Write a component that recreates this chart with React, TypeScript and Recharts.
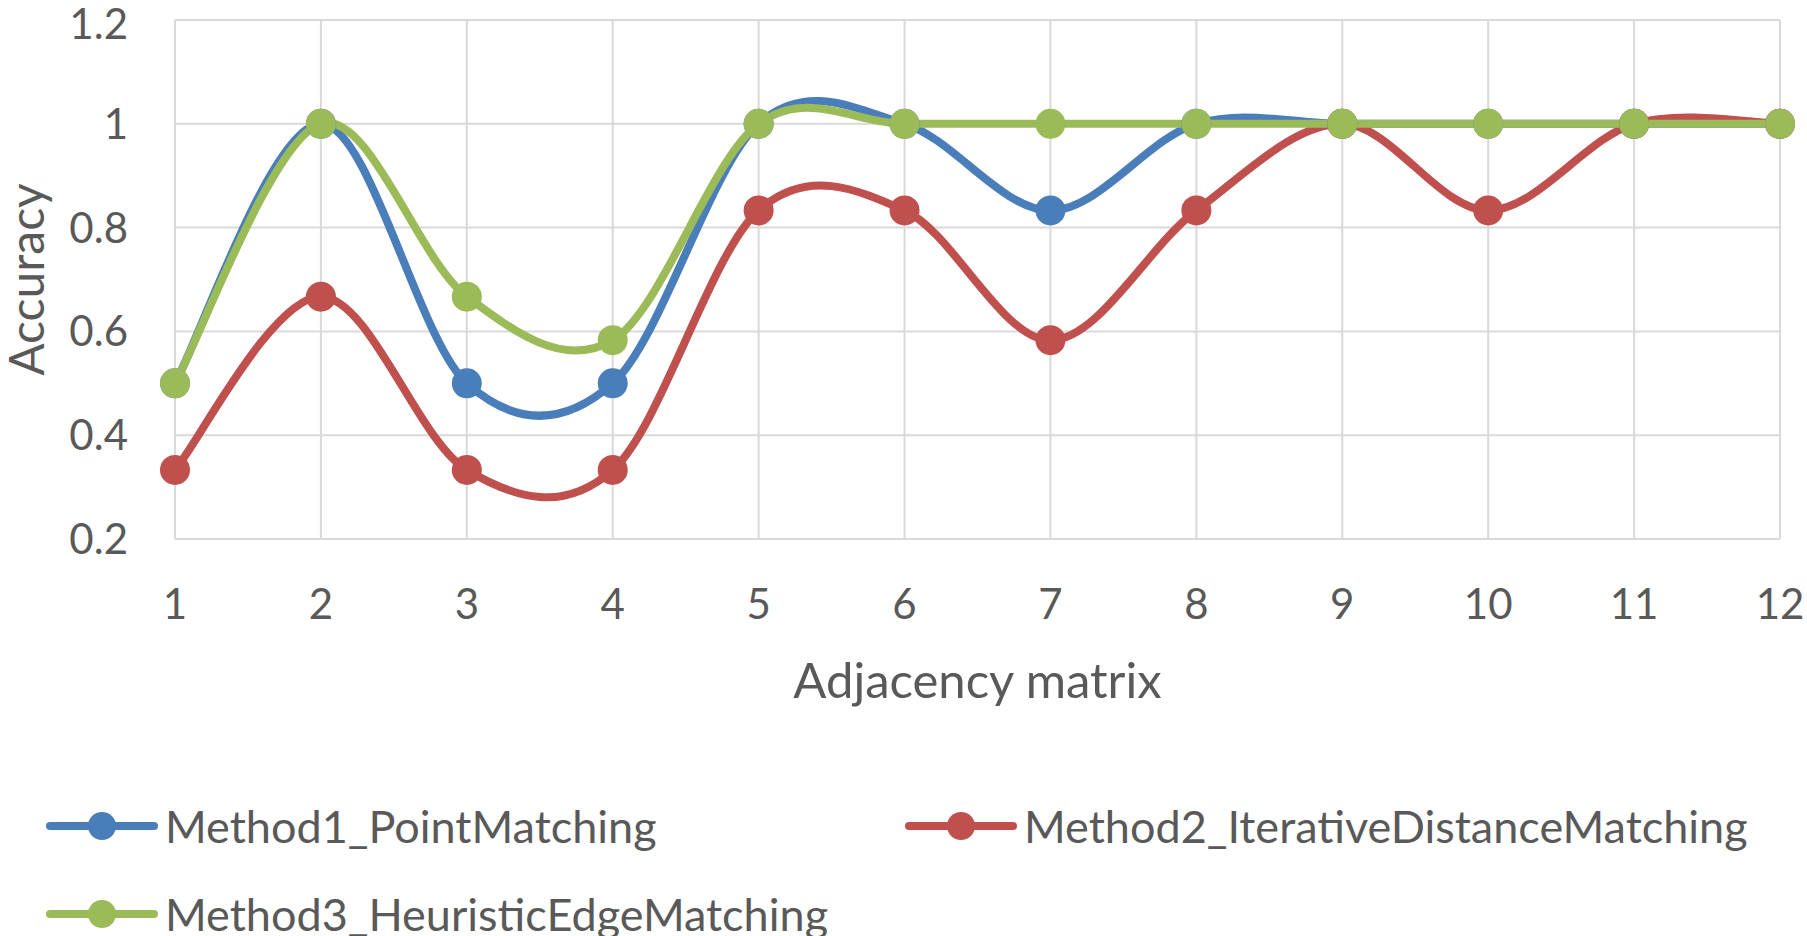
import { LineChart, Line, XAxis, YAxis, CartesianGrid, Legend } from 'recharts';

const xValues = [1, 2, 3, 4, 5, 6, 7, 8, 9, 10, 11, 12];
const method1 = [0.5, 1, 0.5, 0.5, 1, 1, 0.833, 1, 1, 1, 1, 1];
const method2 = [0.333, 0.667, 0.333, 0.333, 0.833, 0.833, 0.583, 0.833, 1, 0.833, 1, 1];
const method3 = [0.5, 1, 0.667, 0.583, 1, 1, 1, 1, 1, 1, 1, 1];
const yTicks = [0.2, 0.4, 0.6, 0.8, 1, 1.2];

const series = [
  { key: 'm1', name: 'Method1_PointMatching', color: '#4a7ebb' },
  { key: 'm2', name: 'Method2_IterativeDistanceMatching', color: '#c0504d' },
  { key: 'm3', name: 'Method3_HeuristicEdgeMatching', color: '#9bbb59' },
];

const data = xValues.map((x, i) => ({ x, m1: method1[i], m2: method2[i], m3: method3[i] }));

const FONT = 'Lato, "Open Sans", sans-serif';
const TEXT = '#595959';

// office-style smoothed line (catmull-rom as cubic bezier)
const smooth = (ctx: any) => {
  let pts: number[][] = [];
  return {
    areaStart() {},
    areaEnd() {},
    lineStart() {
      pts = [];
    },
    point(x: number, y: number) {
      pts.push([+x, +y]);
    },
    lineEnd() {
      if (!pts.length) return;
      ctx.moveTo(pts[0][0], pts[0][1]);
      for (let i = 0; i < pts.length - 1; i++) {
        const p0 = pts[i - 1] || pts[i];
        const p1 = pts[i];
        const p2 = pts[i + 1];
        const p3 = pts[i + 2] || p2;
        ctx.bezierCurveTo(
          p1[0] + (p2[0] - p0[0]) / 6,
          p1[1] + (p2[1] - p0[1]) / 6,
          p2[0] - (p3[0] - p1[0]) / 6,
          p2[1] - (p3[1] - p1[1]) / 6,
          p2[0],
          p2[1],
        );
      }
    },
  };
};

const legendPos = [
  { left: 46, top: 16 },
  { left: 905, top: 16 },
  { left: 46, top: 104 },
];

const renderLegend = ({ payload }: any) => (
  <div style={{ position: 'relative', width: 1807, height: 156, fontFamily: FONT }}>
    {(payload || []).map((p: any, i: number) => (
      <div
        key={p.value}
        style={{ position: 'absolute', ...legendPos[i], height: 60, display: 'flex', alignItems: 'center' }}
      >
        <svg width={112} height={32}>
          <line x1={4} y1={16} x2={108} y2={16} stroke={p.color} strokeWidth={8} strokeLinecap="round" />
          <circle cx={56} cy={16} r={14} fill={p.color} />
        </svg>
        <span style={{ marginLeft: 7, fontSize: 45, color: TEXT, whiteSpace: 'nowrap' }}>{p.value}</span>
      </div>
    ))}
  </div>
);

export default function App() {
  return (
    <div style={{ position: 'absolute', left: 0, top: 0, width: 1807, height: 936, background: '#fff' }}>
      <LineChart width={1807} height={936} data={data} margin={{ top: 20, right: 27, bottom: 0, left: 0 }}>
        <CartesianGrid stroke="#d9d9d9" strokeWidth={2} />
        <XAxis
          dataKey="x"
          type="number"
          domain={[1, 12]}
          ticks={xValues}
          height={397}
          tickLine={false}
          tickSize={0}
          tickMargin={50}
          axisLine={{ stroke: '#d9d9d9', strokeWidth: 2 }}
          tick={{ fill: TEXT, fontSize: 42, fontFamily: FONT }}
          label={{ value: 'Adjacency matrix', position: 'insideTop', offset: 124, fill: TEXT, fontSize: 49, fontFamily: FONT }}
        />
        <YAxis
          type="number"
          domain={[0.2, 1.2]}
          ticks={yTicks}
          width={175}
          tickLine={false}
          tickSize={0}
          tickMargin={47}
          axisLine={{ stroke: '#d9d9d9', strokeWidth: 2 }}
          tickFormatter={(v: number) => String(v)}
          tick={{ fill: TEXT, fontSize: 42, fontFamily: FONT }}
          label={{
            value: 'Accuracy',
            angle: -90,
            position: 'insideLeft',
            offset: 27,
            fill: TEXT,
            fontSize: 48,
            fontFamily: FONT,
            style: { textAnchor: 'middle' },
          }}
        />
        <Legend
          layout="horizontal"
          verticalAlign="middle"
          align="center"
          wrapperStyle={{ left: 0, top: 780, width: 1807 }}
          content={renderLegend}
        />
        {series.map((s) => (
          <Line
            key={s.key}
            dataKey={s.key}
            name={s.name}
            type={smooth as any}
            stroke={s.color}
            strokeWidth={8}
            dot={{ r: 15, fill: s.color, stroke: 'none' }}
            activeDot={false}
            isAnimationActive={false}
          />
        ))}
      </LineChart>
    </div>
  );
}
